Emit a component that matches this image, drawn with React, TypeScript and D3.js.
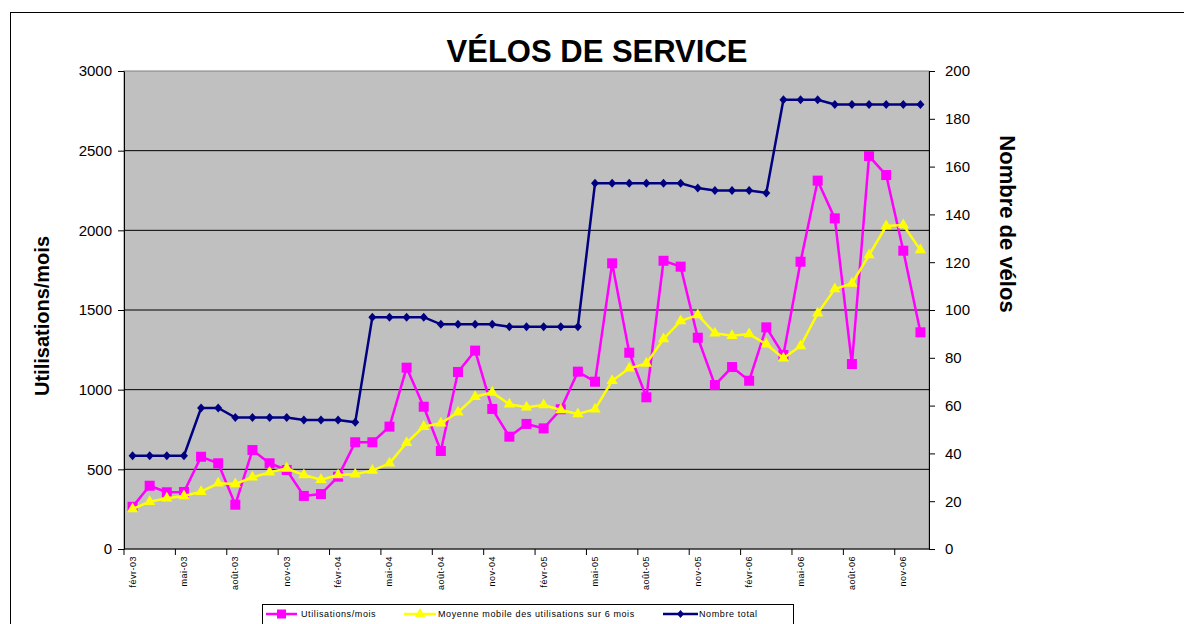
import React, { useEffect, useRef } from "react";
import * as d3 from "d3";

// months fevr-03 .. dec-06
const monthNames = ["janv", "févr", "mars", "avr", "mai", "juin", "juil", "août", "sept", "oct", "nov", "déc"];
const months: string[] = [];
for (let y = 2003; y <= 2006; y++) {
  for (let m = 0; m < 12; m++) {
    if (y === 2003 && m === 0) continue;
    months.push(monthNames[m] + "-" + String(y).slice(2));
  }
}

// Utilisations/mois
const utilisations = [
  265, 397, 356, 358, 579, 538, 278, 621, 538, 496, 333, 345,
  454, 670, 670, 768, 1138, 893, 615, 1111, 1245, 879, 705, 785,
  757, 877, 1113, 1050, 1793, 1232, 952, 1809, 1772, 1326, 1029, 1142,
  1056, 1391, 1218, 1803, 2312, 2075, 1161, 2466, 2347, 1872, 1360,
];

// Moyenne mobile des utilisations sur 6 mois
const moyenne = [
  251, 297, 318, 333, 360, 412, 408, 450, 481, 506, 464, 435,
  464, 469, 492, 538, 667, 768, 789, 858, 956, 983, 908, 890,
  904, 872, 847, 877, 1056, 1134, 1165, 1318, 1431, 1469, 1354, 1339,
  1349, 1285, 1197, 1274, 1479, 1632, 1667, 1845, 2027, 2033, 1876,
];

// Nombre total (axe secondaire)
const nombreTotal = [
  39, 39, 39, 39, 59, 59, 55, 55, 55, 55, 54, 54,
  54, 53, 97, 97, 97, 97, 94, 94, 94, 94, 93, 93,
  93, 93, 93, 153, 153, 153, 153, 153, 153, 151, 150, 150,
  150, 149, 188, 188, 188, 186, 186, 186, 186, 186, 186,
];

const leftTicks = [0, 500, 1000, 1500, 2000, 2500, 3000];
const rightTicks = [0, 20, 40, 60, 80, 100, 120, 140, 160, 180, 200];

const App = () => {
  const ref = useRef<SVGSVGElement>(null);

  useEffect(() => {
    const svg = d3.select(ref.current);
    svg.selectAll("*").remove();

    const left = 124, right = 929, top = 71, bottom = 549;
    const font = "Arial, 'Liberation Sans', sans-serif";

    const x = d3.scaleBand<string>().domain(months).range([left, right]).padding(0);
    const bw = x.bandwidth();
    const cx = (i: number) => (x(months[i]) as number) + bw / 2;
    const y = d3.scaleLinear().domain([0, 3000]).range([bottom, top]);
    const y2 = d3.scaleLinear().domain([0, 200]).range([bottom, top]);

    // chart border
    svg.append("rect")
      .attr("x", 10.5).attr("y", 12.5)
      .attr("width", 1300).attr("height", 700)
      .attr("fill", "white").attr("stroke", "black").attr("stroke-width", 1);

    // title
    svg.append("text")
      .attr("x", 597).attr("y", 62)
      .attr("text-anchor", "middle")
      .style("font-family", font)
      .style("font-size", "31px")
      .style("font-weight", "bold")
      .text("VÉLOS DE SERVICE");

    // plot area
    svg.append("rect")
      .attr("x", left).attr("y", top)
      .attr("width", right - left).attr("height", bottom - top)
      .attr("fill", "#c0c0c0").attr("stroke", "#808080").attr("stroke-width", 1);

    // gridlines
    svg.append("g")
      .selectAll("line")
      .data(leftTicks.filter(t => t > 0 && t < 3000))
      .enter()
      .append("line")
      .attr("x1", left).attr("x2", right)
      .attr("y1", d => y(d)).attr("y2", d => y(d))
      .attr("stroke", "#000").attr("stroke-width", 1);

    // left axis
    const gl = svg.append("g").attr("transform", `translate(${left},0)`)
      .call(d3.axisLeft(y).tickValues(leftTicks).tickFormat(d3.format("d"))
        .tickSizeInner(6).tickSizeOuter(0).tickPadding(6));
    gl.select(".domain").attr("stroke", "#000");
    gl.selectAll("text").style("font-family", font).style("font-size", "15px").attr("fill", "#000");

    // right axis
    const gr = svg.append("g").attr("transform", `translate(${right},0)`)
      .call(d3.axisRight(y2).tickValues(rightTicks).tickFormat(d3.format("d"))
        .tickSizeInner(6).tickSizeOuter(0).tickPadding(10));
    gr.select(".domain").attr("stroke", "#000");
    gr.selectAll("text").style("font-family", font).style("font-size", "15px").attr("fill", "#000");

    // bottom axis
    svg.append("line")
      .attr("x1", left).attr("x2", right)
      .attr("y1", bottom).attr("y2", bottom)
      .attr("stroke", "#000");
    svg.append("g")
      .selectAll("line")
      .data(months.filter((m, i) => i % 3 === 0))
      .enter()
      .append("line")
      .attr("x1", d => x(d) as number).attr("x2", d => x(d) as number)
      .attr("y1", bottom).attr("y2", bottom + 6)
      .attr("stroke", "#000");
    svg.append("g")
      .selectAll("text")
      .data(months.filter((m, i) => i % 3 === 0))
      .enter()
      .append("text")
      .attr("transform", d => `translate(${(x(d) as number) + bw / 2 + 3},556) rotate(-90)`)
      .attr("text-anchor", "end")
      .style("font-family", font)
      .style("font-size", "9px")
      .style("letter-spacing", "0.5px")
      .text(d => d);

    // axis titles
    svg.append("text")
      .attr("transform", "translate(49,316) rotate(-90)")
      .attr("text-anchor", "middle")
      .style("font-family", font)
      .style("font-size", "20px")
      .style("font-weight", "bold")
      .text("Utilisations/mois");
    svg.append("text")
      .attr("transform", "translate(1000,224) rotate(90)")
      .attr("text-anchor", "middle")
      .style("font-family", font)
      .style("font-size", "22px")
      .style("font-weight", "bold")
      .text("Nombre de vélos");

    // series
    const idx = d3.range(months.length);
    const lineL = d3.line<number>().x(i => cx(i));

    svg.append("path")
      .attr("d", lineL.y(i => y(utilisations[i]))(idx))
      .attr("fill", "none").attr("stroke", "#ff00ff").attr("stroke-width", 2.5);
    svg.append("g")
      .selectAll("rect")
      .data(idx)
      .enter()
      .append("rect")
      .attr("x", i => cx(i) - 5).attr("y", i => y(utilisations[i]) - 5)
      .attr("width", 10).attr("height", 10)
      .attr("fill", "#ff00ff");

    svg.append("path")
      .attr("d", lineL.y(i => y(moyenne[i]))(idx))
      .attr("fill", "none").attr("stroke", "#ffff00").attr("stroke-width", 2.5);
    svg.append("g")
      .selectAll("path")
      .data(idx)
      .enter()
      .append("path")
      .attr("d", d3.symbol().type(d3.symbolTriangle).size(55)())
      .attr("transform", i => `translate(${cx(i)},${y(moyenne[i])})`)
      .attr("fill", "#ffff00");

    svg.append("path")
      .attr("d", lineL.y(i => y2(nombreTotal[i]))(idx))
      .attr("fill", "none").attr("stroke", "#000080").attr("stroke-width", 2.5);
    svg.append("g")
      .selectAll("path")
      .data(idx)
      .enter()
      .append("path")
      .attr("d", "M0,-4.5L4,0L0,4.5L-4,0Z")
      .attr("transform", i => `translate(${cx(i)},${y2(nombreTotal[i])})`)
      .attr("fill", "#000080");

    // legend
    const lg = svg.append("g");
    lg.append("rect")
      .attr("x", 262.5).attr("y", 604.5)
      .attr("width", 531).attr("height", 40)
      .attr("fill", "white").attr("stroke", "black");
    const items = [
      { label: "Utilisations/mois", color: "#ff00ff", x0: 266, x1: 297, tx: 301, mark: "square" },
      { label: "Moyenne mobile des utilisations sur 6 mois", color: "#ffff00", x0: 404, x1: 436, tx: 438, mark: "triangle" },
      { label: "Nombre total", color: "#000080", x0: 663, x1: 698, tx: 699, mark: "diamond" },
    ];
    items.forEach(it => {
      const ly = 614;
      lg.append("line")
        .attr("x1", it.x0).attr("x2", it.x1).attr("y1", ly).attr("y2", ly)
        .attr("stroke", it.color).attr("stroke-width", 2.5);
      const mx = (it.x0 + it.x1) / 2;
      if (it.mark === "square") {
        lg.append("rect").attr("x", mx - 4.5).attr("y", ly - 4.5).attr("width", 9).attr("height", 9).attr("fill", it.color);
      } else if (it.mark === "triangle") {
        lg.append("path").attr("d", d3.symbol().type(d3.symbolTriangle).size(45)())
          .attr("transform", `translate(${mx},${ly})`).attr("fill", it.color);
      } else {
        lg.append("path").attr("d", "M0,-4L3.5,0L0,4L-3.5,0Z")
          .attr("transform", `translate(${mx},${ly})`).attr("fill", it.color);
      }
      lg.append("text")
        .attr("x", it.tx).attr("y", ly + 3)
        .style("font-family", font)
        .style("font-size", "9px")
        .style("letter-spacing", "0.6px")
        .text(it.label);
    });
  }, []);

  return (
    <svg ref={ref} width={1184} height={624}
      style={{ position: "absolute", left: 0, top: 0, display: "block" }} />
  );
};

export default App;
